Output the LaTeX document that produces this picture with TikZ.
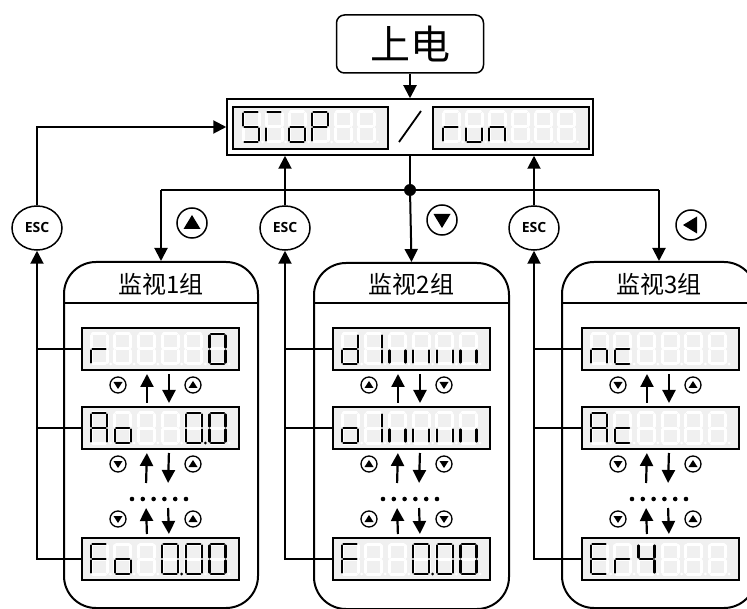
\documentclass[tikz,border=0pt]{standalone}
\usepackage{fontspec}
\newfontfamily\cjkfont{Noto Sans CJK SC}
\newfontfamily\escfont{Open Sans}
\usetikzlibrary{arrows.meta,shapes.geometric,calc}

% seven-segment pieces (digit box 16 x 30, y downwards)
\newcommand\svnsega[1]{\path[#1] (1.5,0)--(14.5,0);}
\newcommand\svnsegb[1]{\path[#1] (16,1.5)--(16,13.5);}
\newcommand\svnsegc[1]{\path[#1] (16,16.5)--(16,28.5);}
\newcommand\svnsegd[1]{\path[#1] (1.5,30)--(14.5,30);}
\newcommand\svnsege[1]{\path[#1] (0,16.5)--(0,28.5);}
\newcommand\svnsegf[1]{\path[#1] (0,1.5)--(0,13.5);}
\newcommand\svnsegg[1]{\path[#1] (1.5,15)--(14.5,15);}
\newcommand\svnsegp[1]{\fill[#1dot] (19.5,30) circle (1.5);}
\newcommand\svnsegx[1]{}
\newcommand\svndigit[3]{%
  \begin{scope}[shift={(#1,#2)}]
    \foreach \s in {a,b,c,d,e,f,g,p}{\csname svnseg\s\endcsname{ghost}}%
    \edef\svnlist{#3}%
    \foreach \s in \svnlist {\csname svnseg\s\endcsname{seg}}%
  \end{scope}}
\newcommand\svnrow[4]{%
  \foreach \d [count=\i from 0] in {#4} {\svndigit{#1+\i*#3}{#2}{\d}}}
\newcommand\svnbig[2]{% node name, rotation
  \fill[shift={(#1.center)}, rotate=#2] (0,-8)--(-8.5,6)--(8.5,6)--cycle;}
\newcommand\svnsmall[2]{%
  \fill[shift={(#1.center)}, rotate=#2] (0,-4)--(-4.5,3)--(4.5,3)--cycle;}

\begin{document}
\begin{tikzpicture}[x=1pt,y=-1pt,
  ghost/.style={draw=white, line width=3, line cap=round},
  ghostdot/.style={fill=white},
  seg/.style={draw=black, line width=2.4, line cap=round},
  segdot/.style={fill=black},
  disp/.style={draw, line width=2, fill=black!6, minimum height=42, inner sep=0, anchor=north west},
  grp/.style={draw, line width=2, rounded corners=32, inner sep=0, anchor=north west, minimum height=346},
  arr/.style={line width=2, -{Triangle[length=13pt,width=13pt]}},
  sarr/.style={line width=2.2, -{Triangle[length=13pt,width=13pt]}, shorten <=3pt, shorten >=3pt},
  line/.style={line width=2},
  esc/.style={draw, ellipse, line width=1.5, minimum width=50, minimum height=44, inner sep=0, font=\escfont\bfseries\fontsize{14}{16}\selectfont},
  bbtn/.style={draw, circle, line width=1.5, minimum size=30, inner sep=0},
  sbtn/.style={draw, circle, line width=1.3, minimum size=16, inner sep=0},
  title/.style={font=\cjkfont\fontsize{24}{26}\selectfont, inner sep=0}]
\useasboundingbox (0,0) rectangle (747,609);
\fill[white] (0,0) rectangle (747,609);
\clip (0,0) rectangle (747,609);

% power on and main display
\node[draw, rounded corners=8, line width=1.5, minimum width=147, minimum height=58, inner sep=0,
      font=\cjkfont\fontsize{40}{44}\selectfont] (pwr) at (410,44) {上电};
\node[draw, line width=1.5, minimum width=366, minimum height=56, inner sep=0] (main) at (410,127) {};
\node[disp, minimum width=155] (topL) at (232,106) {};
\node[disp, minimum width=156] (topR) at (432,106) {};
\svnrow{243}{112}{23}{{a,c,d,f,g},{a,e},{c,d,e,g},{a,b,e,f,g},{x},{x}}
\svnrow{443}{112}{23}{{e,g},{c,d,e},{c,e,g},{x},{x},{x}}
\draw[line width=1.8] (399,142) -- (421,111);
\draw[arr] (pwr.south) -- (main.north);

% junction and branches
\coordinate (J) at (410,190);
\draw[line] (main.south) -- (J);

% groups
\node[grp, minimum width=194] (g1) at (63,261) {};
\node[grp, minimum width=195] (g2) at (313,262) {};
\node[grp, minimum width=194] (g3) at (561,261) {};
\foreach \g/\n in {1/1,2/2,3/3}{
  \draw[line] (g\g.west |- 0,303) -- (g\g.east |- 0,303);
  \node[title] at (g\g.north |- 0,284) {监视\n 组};
}
\draw[line] (J -| g1.north) -- (J -| g3.north);
\fill (J) circle (6);
\draw[arr] (J -| g1.north) -- (g1.north);
\draw[arr] (J) -- (g2.north);
\draw[arr] (J -| g3.north) -- (g3.north);

% top buttons
\node[bbtn] (bup) at (192,223) {}; \svnbig{bup}{0}
\node[bbtn] (bdn) at (442,220) {}; \svnbig{bdn}{180}
\node[bbtn] (blt) at (691,225) {}; \svnbig{blt}{90}

% ESC keys
\node[esc] (esc1) at (37,228) {ESC};
\node[esc] (esc2) at (285,228) {ESC};
\node[esc] (esc3) at (534,228) {ESC};
\draw[arr] (esc1.north) |- (main.west);
\draw[arr] (esc2.north) -- (esc2.north |- main.south);
\draw[arr] (esc3.north) -- (esc3.north |- main.south);

% group contents
\foreach \g/\gx/\esc/\lr/\rr in {1/81/esc1/180/0, 2/332/esc2/0/180, 3/581/esc3/180/0}{
  \node[disp, minimum width=157] (g\g d1) at (\gx,327) {};
  \node[disp, minimum width=157] (g\g d2) at (\gx,406) {};
  \node[disp, minimum width=157] (g\g d3) at (\gx,537) {};
  \coordinate (g\g m) at (\gx+78.5,486);
  \coordinate (g\g n) at (\gx+78.5,505);
  % arrows between displays
  \draw[sarr] ([xshift=-13.5pt]g\g d2.north) -- ([xshift=-13.5pt]g\g d1.south);
  \draw[sarr] ([xshift=8.5pt]g\g d1.south) -- ([xshift=8.5pt]g\g d2.north);
  \draw[sarr] ([xshift=-13.5pt]g\g m) -- ([xshift=-13.5pt]g\g d2.south);
  \draw[sarr] ([xshift=8.5pt]g\g d2.south) -- ([xshift=8.5pt]g\g m);
  \draw[sarr] ([xshift=-13.5pt]g\g d3.north) -- ([xshift=-13.5pt]g\g n);
  \draw[sarr] ([xshift=8.5pt]g\g n) -- ([xshift=8.5pt]g\g d3.north);
  \foreach \k in {0,...,5} \fill (\gx+51+\k*10.8,499) circle (2.3);
  % small keys
  \foreach \yy/\kk in {385/1,464/2,519/3}{
    \node[sbtn] (g\g l\kk) at (\gx+37,\yy) {}; \svnsmall{g\g l\kk}{\lr}
    \node[sbtn] (g\g r\kk) at (\gx+112,\yy) {}; \svnsmall{g\g r\kk}{\rr}
  }
  % ESC connections
  \draw[arr] (g\g d3.west) -| (\esc.south);
  \draw[line] (g\g d1.west) -- (g\g d1.west -| \esc.south);
  \draw[line] (g\g d2.west) -- (g\g d2.west -| \esc.south);
}

% digits group 1
\svnrow{91}{334}{23.7}{{e,g},{x},{x},{x},{x},{a,b,c,d,e,f}}
\svnrow{91}{413}{23.7}{{a,b,c,e,f,g},{c,d,e,g},{x},{x},{a,b,c,d,e,f,p},{a,b,c,d,e,f}}
\svnrow{91}{544}{23.7}{{a,e,f,g},{c,d,e,g},{x},{a,b,c,d,e,f,p},{a,b,c,d,e,f},{a,b,c,d,e,f}}
% digits group 2
\svnrow{342}{334}{23.7}{{b,c,d,e,g},{b,c},{c,e},{c,e},{c,e},{c,e}}
\svnrow{342}{413}{23.7}{{c,d,e,g},{b,c},{c,e},{c,e},{c,e},{c,e}}
\svnrow{342}{544}{23.7}{{a,e,f,g},{x},{x},{a,b,c,d,e,f,p},{a,b,c,d,e,f},{a,b,c,d,e,f}}
% digits group 3
\svnrow{591}{334}{23.7}{{c,e,g},{d,e,g},{x},{x},{x},{x}}
\svnrow{591}{413}{23.7}{{a,b,c,e,f,g},{d,e,g},{x},{x},{x},{x}}
\svnrow{591}{544}{23.7}{{a,d,e,f,g},{e,g},{b,c,f,g},{x},{x},{x}}
\end{tikzpicture}
\end{document}
